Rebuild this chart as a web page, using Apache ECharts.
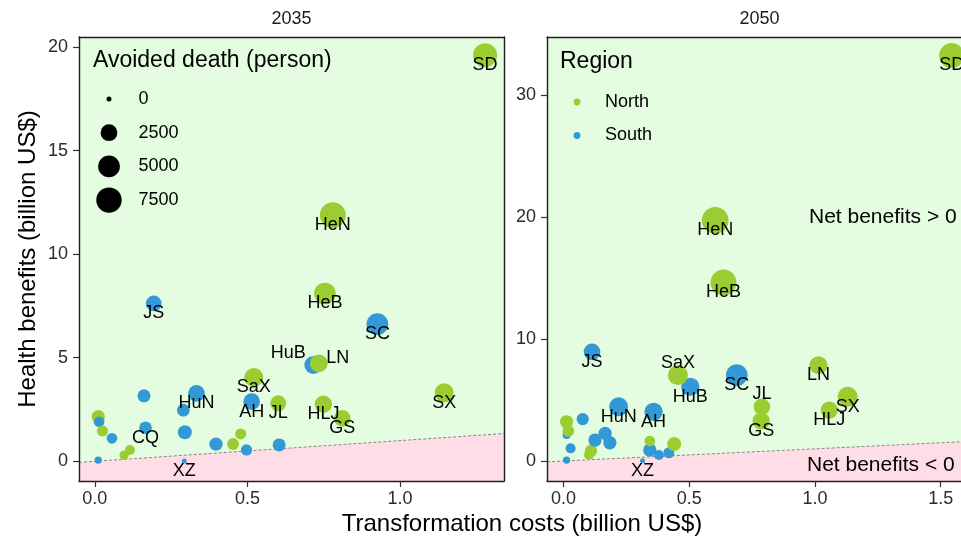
<!DOCTYPE html>
<html>
<head>
<meta charset="utf-8">
<title>Health benefits vs transformation costs</title>
<script src="https://cdn.jsdelivr.net/npm/echarts@6/dist/echarts.min.js"></script>
<style>
  html, body { margin: 0; padding: 0; background: #ffffff; }
  #chart { width: 961px; height: 539px; }
</style>
</head>
<body>
<div id="chart"></div>
<script>
// ---------- data ----------
const regions = ['North', 'South'];
const sizeBreaks = [0, 2500, 5000, 7500];

// 2035 scenario (empty name = province not labelled)
const names2035 = ['', '', '', '', '', '', '', '', '', '', '', '', '', '', '',
  'CQ', 'XZ', 'JS', 'HuN', 'AH', 'HuB', 'SC', 'SD', 'HeN', 'HeB', 'LN', 'SaX', 'JL', 'HLJ', 'GS', 'SX'];
const region2035 = ['South', 'North', 'South', 'North', 'South', 'North', 'North', 'South', 'South', 'South', 'South', 'North', 'North', 'South', 'South',
  'South', 'South', 'South', 'South', 'South', 'South', 'South', 'North', 'North', 'North', 'North', 'North', 'North', 'North', 'North', 'North'];
const cost2035 = [0.161, 0.011, 0.014, 0.025, 0.056, 0.115, 0.096, 0.011, 0.290, 0.295, 0.397, 0.453, 0.478, 0.497, 0.604,
  0.166, 0.293, 0.193, 0.333, 0.514, 0.716, 0.926, 1.279, 0.780, 0.754, 0.734, 0.521, 0.601, 0.749, 0.811, 1.145];
const benefit2035 = [3.16, 2.15, 1.91, 1.46, 1.11, 0.55, 0.30, 0.06, 2.47, 1.40, 0.83, 0.83, 1.32, 0.55, 0.79,
  1.62, 0.01, 7.62, 3.28, 2.88, 4.65, 6.62, 19.60, 11.88, 8.10, 4.73, 4.05, 2.80, 2.76, 2.07, 3.31];
const deaths2035 = [1150, 1240, 580, 650, 580, 450, 330, 95, 1060, 1450, 1240, 880, 650, 710, 1150,
  1060, 0, 2050, 2450, 2450, 3000, 5000, 6500, 7900, 5000, 2900, 3500, 2170, 2700, 2450, 3500];

// 2050 scenario
const names2050 = ['', '', '', '', '', '', '', '', '', '', '', '', '', '', '', '',
  'XZ', 'JS', 'HuN', 'AH', 'HuB', 'SC', 'SD', 'HeN', 'HeB', 'SaX', 'JL', 'GS', 'LN', 'HLJ', 'SX'];
const region2050 = ['South', 'North', 'North', 'South', 'South', 'South', 'North', 'North', 'South', 'South', 'South', 'South', 'South', 'South', 'North', 'North',
  'South', 'South', 'South', 'South', 'South', 'South', 'North', 'North', 'North', 'North', 'North', 'North', 'North', 'North', 'North'];
const cost2050 = [0.012, 0.012, 0.019, 0.076, 0.028, 0.012, 0.109, 0.101, 0.125, 0.165, 0.184, 0.343, 0.379, 0.419, 0.343, 0.440,
  0.314, 0.113, 0.219, 0.358, 0.504, 0.689, 1.544, 0.603, 0.636, 0.455, 0.789, 0.786, 1.014, 1.057, 1.130];
const benefit2050 = [2.13, 3.22, 2.48, 3.44, 1.04, 0.08, 0.84, 0.49, 1.72, 2.27, 1.50, 0.90, 0.49, 0.68, 1.64, 1.39,
  0.02, 8.96, 4.45, 4.04, 6.09, 7.05, 33.28, 19.75, 14.65, 7.05, 4.45, 3.30, 7.87, 4.18, 5.27];
const deaths2050 = [160, 1240, 800, 960, 450, 95, 960, 450, 1240, 1240, 1240, 1240, 450, 650, 580, 1450,
  0, 2450, 3500, 3180, 3180, 5000, 7200, 8450, 7900, 4040, 2450, 2700, 3030, 2700, 4040];

// axis limits (visible window) and tick labels
const xLimits2035 = [-0.052, 1.341];
const yLimits2035 = [-0.95, 20.48];
const xTicks2035 = [0, 0.5, 1.0];
const yTicks2035 = [0, 5, 10, 15, 20];
const xLimits2050 = [-0.066, 1.581];
const yLimits2050 = [-1.64, 34.8];
const xTicks2050 = [0, 0.5, 1.0, 1.5];
const yTicks2050 = [0, 10, 20, 30];

// ---------- styling ----------
const FONT = '"Liberation Sans", Arial, Helvetica, sans-serif';
const regionColor = { North: '#9ACD32', South: '#3399D6' };
const AXIS_COLOR = '#1e1e1e';
const TEXT_COLOR = '#000000';

// point diameter from avoided deaths (square-root, area-like scale)
function sizeOf(v) { return 5 + 0.236 * Math.sqrt(Math.max(v, 0)); }

// labels that are nudged away from their point
const labelNudge = {
  '2035:HuB': [-25, -12],
  '2035:LN': [19, -5],
  '2050:SaX': [0, -12],
  '2050:JL': [0, -13]
};

// the 2050 panel runs off the right edge of the canvas, so its right frame is not drawn
const panels = [
  { year: '2035', left: 79, width: 425, rightFrame: true, names: names2035, region: region2035, cost: cost2035,
    benefit: benefit2035, deaths: deaths2035, xLim: xLimits2035, yLim: yLimits2035, xTicks: xTicks2035, yTicks: yTicks2035 },
  { year: '2050', left: 547, width: 414, rightFrame: false, names: names2050, region: region2050, cost: cost2050,
    benefit: benefit2050, deaths: deaths2050, xLim: xLimits2050, yLim: yLimits2050, xTicks: xTicks2050, yTicks: yTicks2050 }
];
const FULL_W = 425;

const GRID_TOP = 37, GRID_H = 444;

const grid = [], xAxis = [], yAxis = [], series = [], graphic = [];

// text placed at data coordinates: drawn as graphic text once the axes exist
const pendingText = [];

panels.forEach(function (p, i) {
  grid.push({ left: p.left, top: GRID_TOP, width: p.width, height: GRID_H, show: true,
    backgroundColor: '#E4FCDF', borderWidth: 0, containLabel: false });

  const lineStyle = { color: AXIS_COLOR, width: 1.4 };
  // bottom x axis with ticks
  xAxis.push({ type: 'value', gridIndex: i, min: p.xLim[0], max: p.xLim[1], position: 'bottom', z: 10,
    axisLine: { show: true, onZero: false, lineStyle: lineStyle },
    axisTick: { show: true, length: 6, customValues: p.xTicks, lineStyle: { color: '#333', width: 1.2 } },
    axisLabel: { show: true, customValues: p.xTicks, margin: 9, color: '#2b2b2b', fontSize: 18, fontFamily: FONT,
      formatter: function (v) { return v.toFixed(1); } },
    splitLine: { show: false } });
  // top frame edge
  xAxis.push({ type: 'value', gridIndex: i, min: p.xLim[0], max: p.xLim[1], position: 'top', z: 10,
    axisLine: { show: true, onZero: false, lineStyle: lineStyle },
    axisTick: { show: false }, axisLabel: { show: false }, splitLine: { show: false } });
  // left y axis with ticks
  yAxis.push({ type: 'value', gridIndex: i, min: p.yLim[0], max: p.yLim[1], position: 'left', z: 10,
    axisLine: { show: true, onZero: false, lineStyle: lineStyle },
    axisTick: { show: true, length: 6, customValues: p.yTicks, lineStyle: { color: '#333', width: 1.2 } },
    axisLabel: { show: true, customValues: p.yTicks, margin: 11, color: '#2b2b2b', fontSize: 18, fontFamily: FONT,
      formatter: function (v) { return String(v); } },
    splitLine: { show: false } });
  // right frame edge
  yAxis.push({ type: 'value', gridIndex: i, min: p.yLim[0], max: p.yLim[1], position: 'right', z: 10,
    axisLine: { show: p.rightFrame, onZero: false, lineStyle: lineStyle },
    axisTick: { show: false }, axisLabel: { show: false }, splitLine: { show: false } });

  const xi = 2 * i, yi = 2 * i;

  // break-even line (benefits = costs) with the loss region shaded below it
  series.push({ type: 'line', xAxisIndex: xi, yAxisIndex: yi, z: 1, silent: true,
    showSymbol: false, symbol: 'none',
    data: [[p.xLim[0], p.xLim[0]], [p.xLim[1], p.xLim[1]]],
    lineStyle: { type: [3, 2], color: '#7a7a7a', width: 0.9 },
    areaStyle: { color: '#FFDDE6', opacity: 1, origin: 'start' } });

  // provinces
  const pts = p.cost.map(function (c, k) {
    return { value: [c, p.benefit[k], p.deaths[k]], name: p.names[k],
      itemStyle: { color: regionColor[p.region[k]] } };
  });
  series.push({ type: 'scatter', xAxisIndex: xi, yAxisIndex: yi, z: 2, silent: true,
    symbol: 'circle', symbolSize: function (v) { return sizeOf(v[2]); },
    itemStyle: { opacity: 1 }, data: pts });

  // province labels
  p.names.forEach(function (n, k) {
    if (!n) return;
    const off = labelNudge[p.year + ':' + n] || [0, 10];
    pendingText.push({ grid: i, coord: [p.cost[k], p.benefit[k]], text: n, off: off, size: 18 });
  });

  // facet title, centred over the full panel
  graphic.push({ type: 'text', x: p.left + FULL_W / 2, y: 19,
    style: { text: p.year, fill: '#1a1a1a', font: '18px ' + FONT, textAlign: 'center', textVerticalAlign: 'middle' } });
});

// annotation of benefit regions in the 2050 panel
pendingText.push({ grid: 1, coord: [1.27, 20.0], text: 'Net benefits > 0', off: [0, 0], size: 21 });
pendingText.push({ grid: 1, coord: [1.262, -0.33], text: 'Net benefits < 0', off: [0, 0], size: 21 });

// axis titles
graphic.push({ type: 'text', x: 28, y: 259, rotation: Math.PI / 2,
  style: { text: 'Health benefits (billion US$)', fill: TEXT_COLOR, font: '24px ' + FONT,
    textAlign: 'center', textVerticalAlign: 'middle' } });
graphic.push({ type: 'text', x: 522, y: 524,
  style: { text: 'Transformation costs (billion US$)', fill: TEXT_COLOR, font: '24px ' + FONT,
    textAlign: 'center', textVerticalAlign: 'middle' } });

// size legend
graphic.push({ type: 'text', x: 93, y: 61,
  style: { text: 'Avoided death (person)', fill: TEXT_COLOR, font: '23px ' + FONT, textVerticalAlign: 'middle' } });
sizeBreaks.forEach(function (b, k) {
  const cy = 99 + 33.7 * k;
  graphic.push({ type: 'circle', shape: { cx: 109, cy: cy, r: sizeOf(b) / 2 }, style: { fill: '#000' }, z: 20 });
  graphic.push({ type: 'text', x: 138.5, y: cy, z: 20,
    style: { text: String(b), fill: TEXT_COLOR, font: '18px ' + FONT, textVerticalAlign: 'middle' } });
});

// colour legend
graphic.push({ type: 'text', x: 560, y: 62,
  style: { text: 'Region', fill: TEXT_COLOR, font: '23px ' + FONT, textVerticalAlign: 'middle' } });
regions.forEach(function (r, k) {
  const cy = 102 + 33.5 * k;
  graphic.push({ type: 'circle', shape: { cx: 577, cy: cy, r: 3.4 }, style: { fill: regionColor[r] }, z: 20 });
  graphic.push({ type: 'text', x: 605, y: cy, z: 20,
    style: { text: r, fill: TEXT_COLOR, font: '18px ' + FONT, textVerticalAlign: 'middle' } });
});

const chart = echarts.init(document.getElementById('chart'), null, { renderer: 'canvas' });
chart.setOption({
  animation: false,
  backgroundColor: '#ffffff',
  grid: grid,
  xAxis: xAxis,
  yAxis: yAxis,
  series: series,
  graphic: graphic
});

// place data-anchored texts through the axes' own scales
const dataText = pendingText.map(function (t) {
  const px = chart.convertToPixel({ gridIndex: t.grid }, t.coord);
  return { type: 'text', x: px[0] + t.off[0], y: px[1] + t.off[1], z: 30, silent: true,
    style: { text: t.text, fill: TEXT_COLOR, font: t.size + 'px ' + FONT,
      textAlign: 'center', textVerticalAlign: 'middle' } };
});
chart.setOption({ graphic: graphic.concat(dataText) });
</script>
</body>
</html>
